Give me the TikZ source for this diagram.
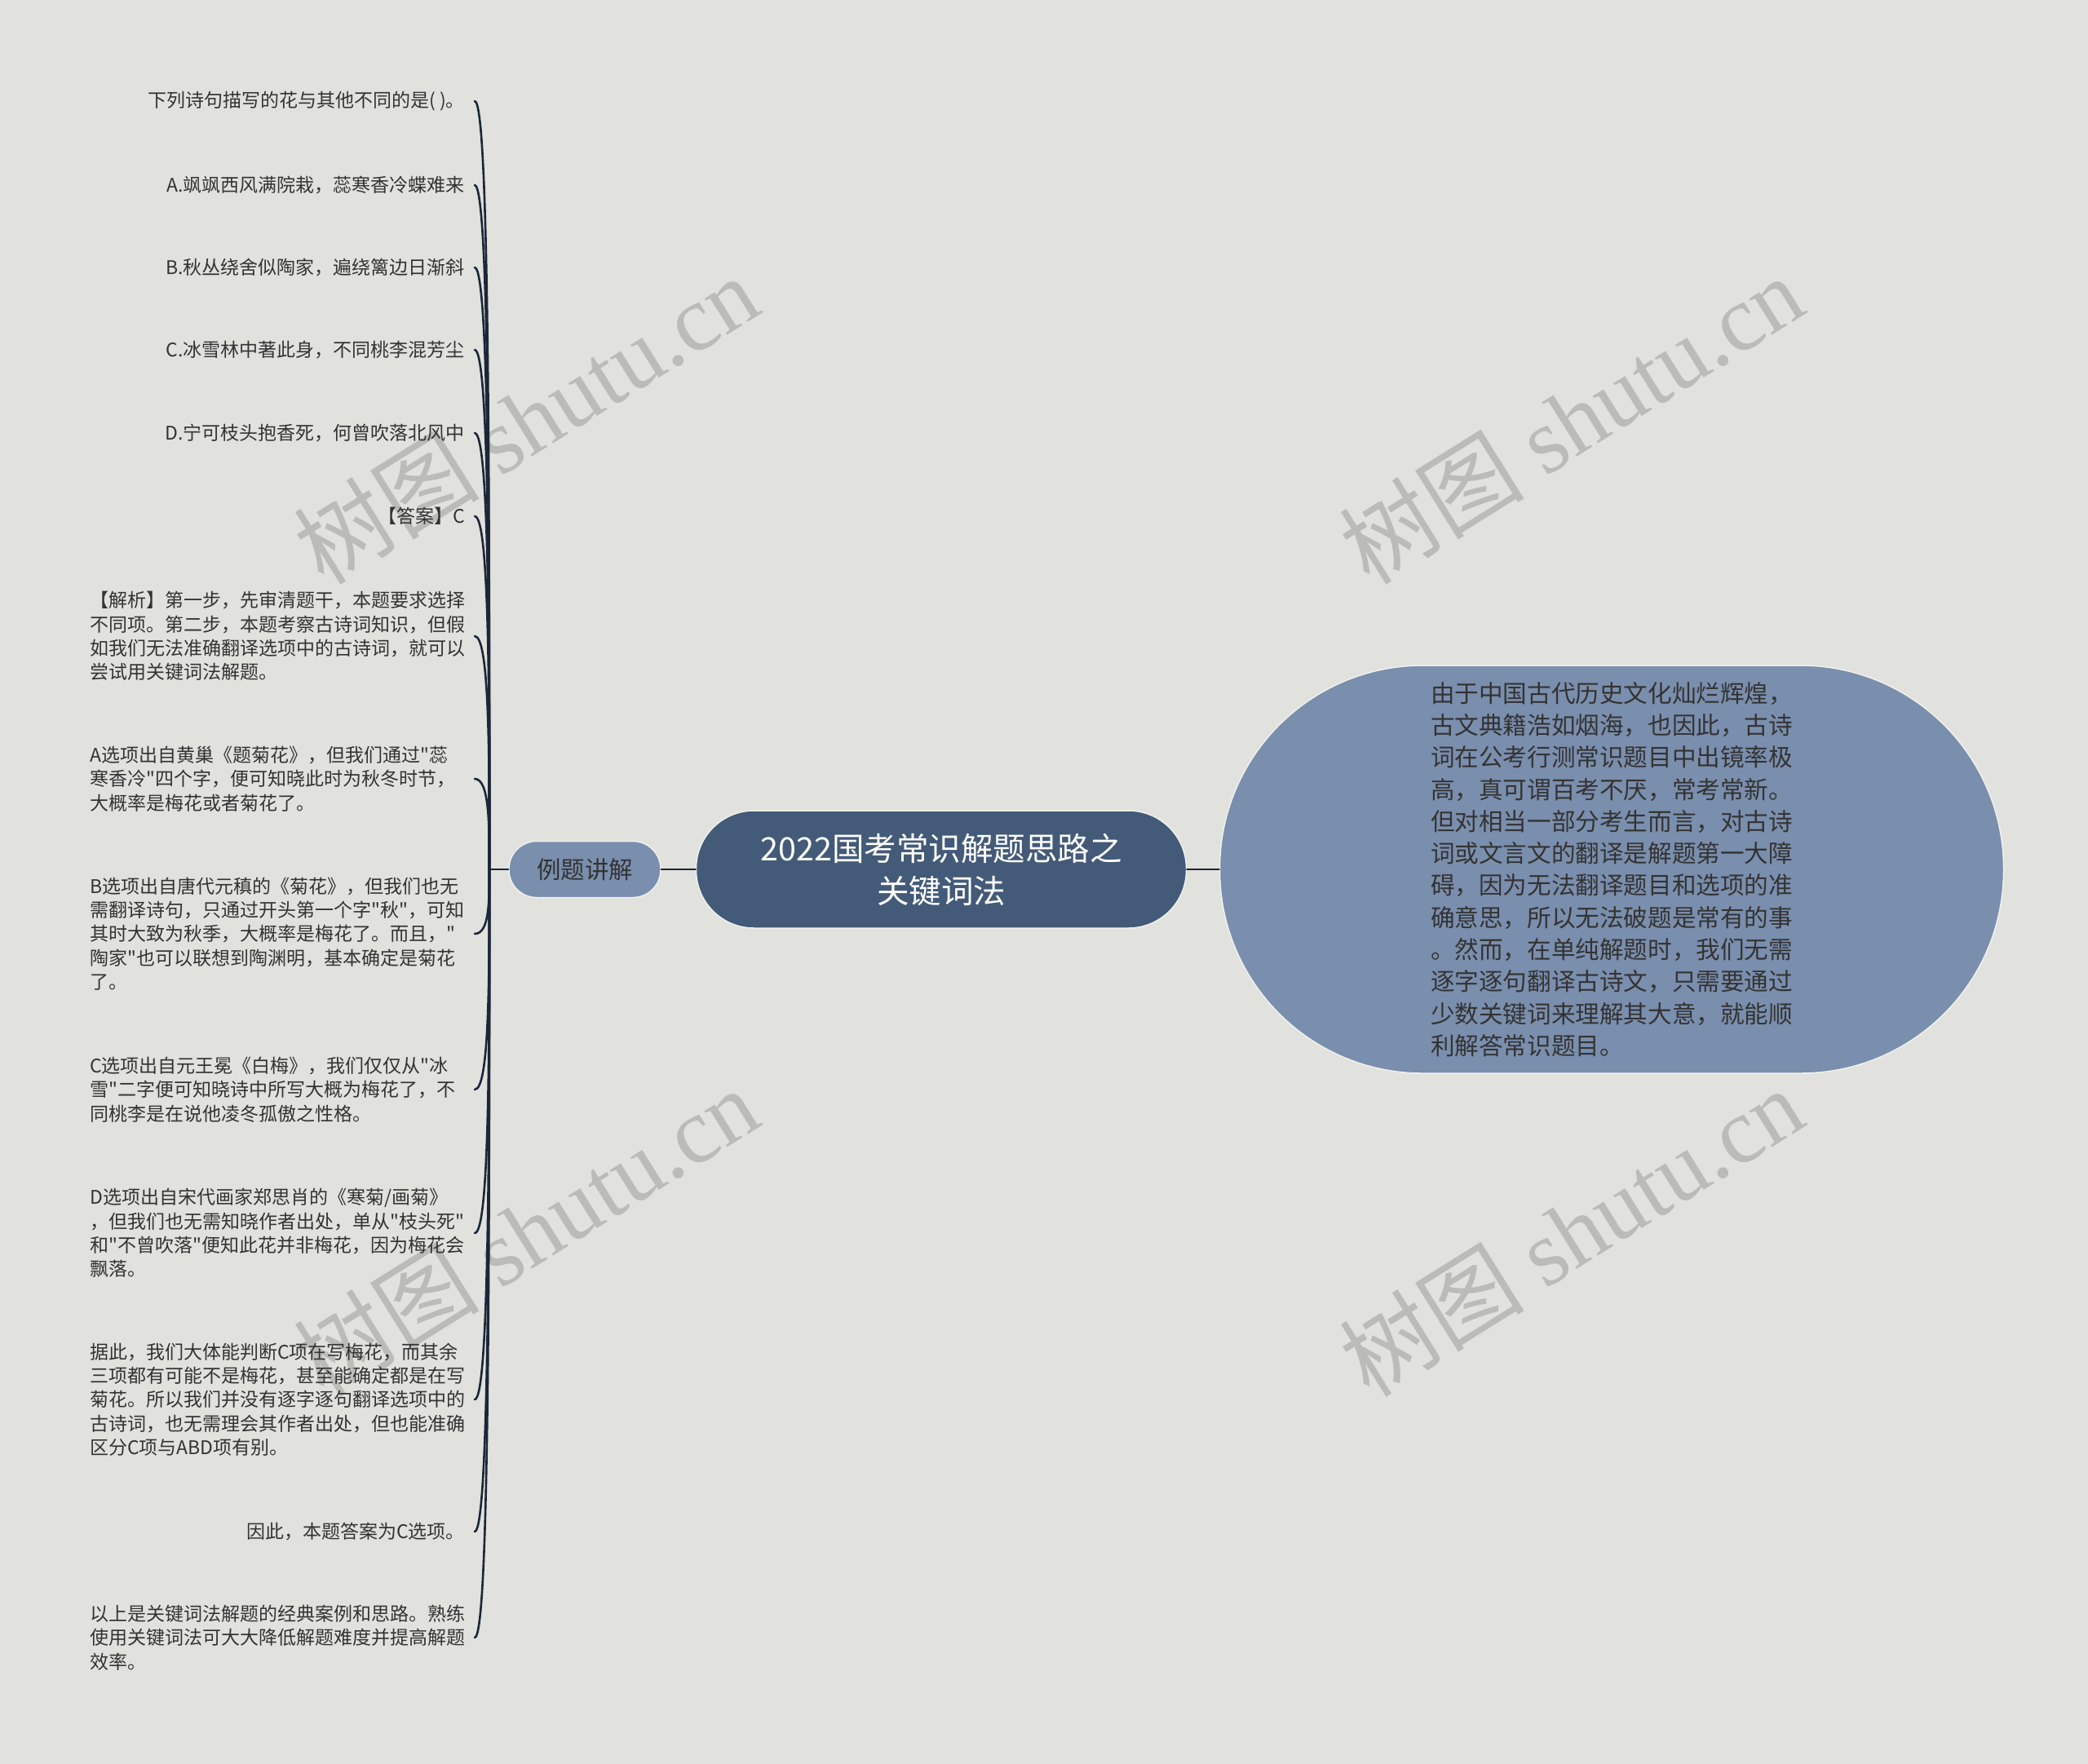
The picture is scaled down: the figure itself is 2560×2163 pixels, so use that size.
\documentclass[tikz,border=0pt]{standalone}
\usepackage{fontspec}
\setmainfont{Noto Sans CJK SC}[Ligatures=TeXOff]
\newfontfamily\wmlatin{Liberation Serif}
\usetikzlibrary{calc}
\definecolor{bgc}{HTML}{E1E1DD}
\definecolor{rootc}{HTML}{435A78}
\definecolor{subc}{HTML}{7A8EAD}
\definecolor{linec}{HTML}{1B2638}
\definecolor{txtc}{HTML}{333333}
\definecolor{wmc}{HTML}{BBBBB7}
\definecolor{rimc}{HTML}{F0F0ED}
\begin{document}
\begin{tikzpicture}[x=1pt,y=-1pt,
  conn/.style={draw=linec, line width=2.6pt, line cap=round},
  leaf/.style={inner sep=0pt, text=txtc, font=\fontsize{23}{29.4}\selectfont},
  leafblock/.style={leaf, anchor=west, text width=462pt, align=left},
  leafline/.style={leaf, anchor=east},
  wmark/.style={text=wmc, rotate=32, font=\fontsize{114}{114}\selectfont, inner sep=0pt},
  rootbox/.style={fill=rootc, draw=rimc, line width=1.5pt, rounded corners=71pt, minimum width=601pt, minimum height=144pt, inner sep=0pt, text=white, align=center, font=\fontsize{39.5}{52}\selectfont},
  descbox/.style={fill=subc, draw=rimc, line width=1.5pt, rounded corners=249pt, minimum width=961pt, minimum height=500pt, inner sep=0pt, text=txtc, align=left, font=\fontsize{29.6}{39.3}\selectfont},
  midbox/.style={fill=subc, draw=rimc, line width=1.5pt, rounded corners=34pt, minimum width=186pt, minimum height=69pt, inner sep=0pt, text=txtc, font=\fontsize{29.4}{34}\selectfont},
]
\fill[bgc] (0,0) rectangle (2560,2163);
\useasboundingbox (0,0) rectangle (2560,2163);

% watermarks
\node[wmark] (wm1) at (645,514) {树图 {\wmlatin shutu.cn}};
\node[wmark] (wm2) at (1926,514) {树图 {\wmlatin shutu.cn}};
\node[wmark] (wm3) at (645,1510) {树图 {\wmlatin shutu.cn}};
\node[wmark] (wm4) at (1926,1510) {树图 {\wmlatin shutu.cn}};

% main nodes
\node[rootbox] (root) at (1154,1066) {2022国考常识解题思路之\\关键词法};
\node[descbox] (desc) at (1976,1066) {由于中国古代历史文化灿烂辉煌，\\古文典籍浩如烟海，也因此，古诗\\词在公考行测常识题目中出镜率极\\高，真可谓百考不厌，常考常新。\\但对相当一部分考生而言，对古诗\\词或文言文的翻译是解题第一大障\\碍，因为无法翻译题目和选项的准\\确意思，所以无法破题是常有的事\\。然而，在单纯解题时，我们无需\\逐字逐句翻译古诗文，只需要通过\\少数关键词来理解其大意，就能顺\\利解答常识题目。};
\node[midbox] (mid) at (717,1066) {例题讲解};

% leaves
\node[leafline] (l1) at (570,124) {下列诗句描写的花与其他不同的是( )。};
\node[leafline] (l2) at (570,227) {A.飒飒西风满院栽，蕊寒香冷蝶难来};
\node[leafline] (l3) at (570,328) {B.秋丛绕舍似陶家，遍绕篱边日渐斜};
\node[leafline] (l4) at (570,429) {C.冰雪林中著此身，不同桃李混芳尘};
\node[leafline] (l5) at (570,531) {D.宁可枝头抱香死，何曾吹落北风中};
\node[leafline] (l6) at (570,633) {【答案】C};
\node[leafblock] (l7) at (110,780) {【解析】第一步，先审清题干，本题要求选择\\不同项。第二步，本题考察古诗词知识，但假\\如我们无法准确翻译选项中的古诗词，就可以\\尝试用关键词法解题。};
\node[leafblock] (l8) at (110,955) {A选项出自黄巢《题菊花》，但我们通过"蕊\\寒香冷"四个字，便可知晓此时为秋冬时节，\\大概率是梅花或者菊花了。};
\node[leafblock] (l9) at (110,1145) {B选项出自唐代元稹的《菊花》，但我们也无\\需翻译诗句，只通过开头第一个字"秋"，可知\\其时大致为秋季，大概率是梅花了。而且，"\\陶家"也可以联想到陶渊明，基本确定是菊花\\了。};
\node[leafblock] (l10) at (110,1336) {C选项出自元王冕《白梅》，我们仅仅从"冰\\雪"二字便可知晓诗中所写大概为梅花了，不\\同桃李是在说他凌冬孤傲之性格。};
\node[leafblock] (l11) at (110,1512) {D选项出自宋代画家郑思肖的《寒菊/画菊》\\，但我们也无需知晓作者出处，单从"枝头死"\\和"不曾吹落"便知此花并非梅花，因为梅花会\\飘落。};
\node[leafblock] (l12) at (110,1716) {据此，我们大体能判断C项在写梅花，而其余\\三项都有可能不是梅花，甚至能确定都是在写\\菊花。所以我们并没有逐字逐句翻译选项中的\\古诗词，也无需理会其作者出处，但也能准确\\区分C项与ABD项有别。};
\node[leafline] (l13) at (570,1878) {因此，本题答案为C选项。};
\node[leafblock] (l14) at (110,2008) {以上是关键词法解题的经典案例和思路。熟练\\使用关键词法可大大降低解题难度并提高解题\\效率。};

% connectors
\draw[conn] (root.east) -- (desc.west);
\draw[conn] (mid.east) -- (root.west);
\coordinate (hub) at (600,1066);
\draw[conn] (hub) -- (mid.west);
\foreach \i in {1,...,14} {
  \coordinate (t\i) at ($(l\i.west -| hub)+(-18,0)$);
  \draw[conn] (t\i) .. controls (hub |- t\i) and ($(hub)!0.5!(hub |- t\i)$) .. (hub);
}
\end{tikzpicture}
\end{document}
